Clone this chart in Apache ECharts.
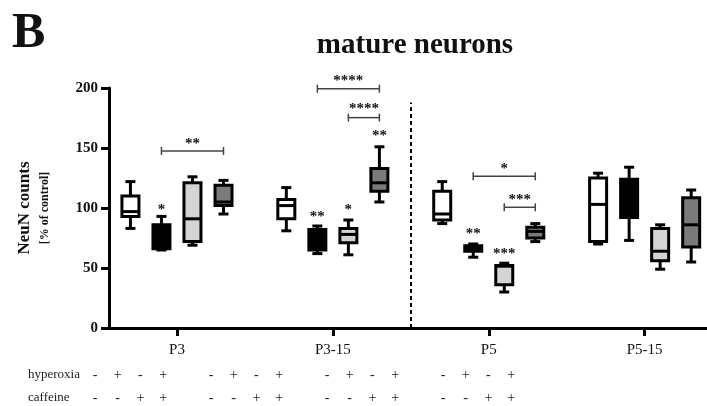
<!DOCTYPE html>
<html><head><meta charset="utf-8">
<script src="https://cdn.jsdelivr.net/npm/echarts@6/dist/echarts.min.js"></script>
<style>html,body{margin:0;padding:0;background:#fff}#c{width:707px;height:406px}</style>
</head><body><div id="c"></div>
<script>
// ---- data ----
const groups = ['P3', 'P3-15', 'P5', 'P5-15'];
const yTicks = [0, 50, 100, 150, 200];
// [min, q1, median, q3, max] per group
const control        = [[83, 93, 97, 110, 122], [81, 91, 102, 107, 117], [87, 90, 95, 114, 122], [70, 72, 103, 125, 129]];
const hyperoxia      = [[65, 66, 75, 86, 93], [62, 65, 72, 82, 85], [59, 64, 66, 68.5, 70], [73, 92, 108, 124, 134]];
const caffeine       = [[69, 72, 91, 121, 126], [61, 71, 78, 83, 90], [30, 36, 51.5, 52, 54], [49, 56, 64, 83, 86]];
const hyperCaffeine  = [[95, 102, 105, 119, 123], [105, 114, 121, 133, 151], [72, 75, 80.5, 84, 87], [55, 67.5, 86, 108.5, 115]];
const treatments = ['control', 'hyperoxia', 'caffeine', 'hyperoxia + caffeine'];
const rowHyperoxia = ['-', '+', '-', '+'];
const rowCaffeine  = ['-', '-', '+', '+'];
// significance: [group, treatmentIndex, starValue, label]
const stars = [[0, 1, 101, '*'], [1, 1, 95, '**'], [1, 2, 101, '*'], [1, 3, 162, '**'], [2, 1, 80.6, '**'], [2, 2, 64, '***']];
// brackets: [group, fromTreatment, toTreatment, lineValue, textValue, label]
const brackets = [[0, 1, 3, 147.5, 156, '**'], [1, 1, 3, 199.4, 208.6, '****'], [1, 2, 3, 175.3, 184.7, '****'],
                  [2, 1, 3, 126.4, 135, '*'], [2, 2, 3, 100.6, 109, '***']];
const separatorAt = 1.5;
const separatorTop = 188;

// ---- layout helpers ----
const OFFS = 0.199;
const xPos = (g, t) => g + (t - 1.5) * OFFS;
const fills = ['#ffffff', '#000000', '#d4d4d4', '#7a7a7a'];
const FONT = "'Liberation Serif', 'DejaVu Serif', serif";

function boxSeries(name, arr, ti) {
  return {
    type: 'custom', name: name,
    data: arr.map((v, g) => [xPos(g, ti)].concat(v)),
    encode: {x: 0, y: [1, 2, 3, 4, 5]},
    renderItem: function (params, api) {
      const x = api.value(0);
      const p = k => api.coord([x, api.value(k)]);
      const pMin = p(1), pQ1 = p(2), pMed = p(3), pQ3 = p(4), pMax = p(5);
      const cx = pMin[0];
      const st = {stroke: '#000', lineWidth: 3, fill: null};
      const hw = 8.5, cw = 5;
      return {type: 'group', children: [
        {type: 'line', shape: {x1: cx, y1: pMin[1], x2: cx, y2: pQ1[1]}, style: st},
        {type: 'line', shape: {x1: cx, y1: pQ3[1], x2: cx, y2: pMax[1]}, style: st},
        {type: 'line', shape: {x1: cx - cw, y1: pMin[1], x2: cx + cw, y2: pMin[1]}, style: st},
        {type: 'line', shape: {x1: cx - cw, y1: pMax[1], x2: cx + cw, y2: pMax[1]}, style: st},
        {type: 'rect', shape: {x: cx - hw, y: pQ3[1], width: hw * 2, height: pQ1[1] - pQ3[1]},
          style: {fill: fills[ti], stroke: '#000', lineWidth: 3}},
        {type: 'line', shape: {x1: cx - hw, y1: pMed[1], x2: cx + hw, y2: pMed[1]}, style: st}
      ]};
    },
    z: 3
  };
}

const series = [
  boxSeries(treatments[0], control, 0),
  boxSeries(treatments[1], hyperoxia, 1),
  boxSeries(treatments[2], caffeine, 2),
  boxSeries(treatments[3], hyperCaffeine, 3),
  {
    type: 'custom', name: 'stars',
    data: stars.map(s => [xPos(s[0], s[1]), s[2], s[3]]),
    encode: {x: 0, y: 1},
    renderItem: function (params, api) {
      const pt = api.coord([api.value(0), api.value(1)]);
      return {type: 'text', x: pt[0], y: pt[1] + 3,
        style: {text: stars[params.dataIndex][3], align: 'center', verticalAlign: 'middle',
          font: "bold 15px " + FONT, fill: '#111'}};
    }, z: 4
  },
  {
    type: 'custom', name: 'brackets',
    data: brackets.map(b => [xPos(b[0], b[1]), xPos(b[0], b[2]), b[3], b[4]]),
    encode: {x: [0, 1], y: [2, 3]},
    renderItem: function (params, api) {
      const a = api.coord([api.value(0), api.value(2)]);
      const b = api.coord([api.value(1), api.value(2)]);
      const t = api.coord([(api.value(0) + api.value(1)) / 2, api.value(3)]);
      const st = {stroke: '#444', lineWidth: 1.5};
      return {type: 'group', children: [
        {type: 'line', shape: {x1: a[0], y1: a[1], x2: b[0], y2: b[1]}, style: st},
        {type: 'line', shape: {x1: a[0], y1: a[1] - 4, x2: a[0], y2: a[1] + 4}, style: st},
        {type: 'line', shape: {x1: b[0], y1: b[1] - 4, x2: b[0], y2: b[1] + 4}, style: st},
        {type: 'text', x: t[0], y: t[1] + 3, style: {text: brackets[params.dataIndex][5], align: 'center',
          verticalAlign: 'middle', font: "bold 15px " + FONT, fill: '#111'}}
      ]};
    }, z: 4,
    markLine: {
      silent: true, symbol: 'none', label: {show: false},
      lineStyle: {color: '#000', type: [4, 3], width: 2},
      data: [[{coord: [separatorAt, 0]}, {coord: [separatorAt, separatorTop]}]]
    }
  }
];

// bottom table texts
const graphics = [
  {type: 'text', left: 12, top: 9, style: {text: 'B', font: "bold 50px " + FONT, fill: '#111'}},
  {type: 'text', x: 28, y: 375, style: {text: 'hyperoxia', font: "13px " + FONT, fill: '#222', verticalAlign: 'middle'}},
  {type: 'text', x: 28, y: 398, style: {text: 'caffeine', font: "13px " + FONT, fill: '#222', verticalAlign: 'middle'}}
];
groups.forEach((g, gi) => {
  for (let i = 0; i < 4; i++) {
    const x = 95 + gi * 116 + i * 22.7;
    graphics.push({type: 'text', x: x, y: 375, style: {text: rowHyperoxia[i], align: 'center', verticalAlign: 'middle', font: "14px " + FONT, fill: '#222'}});
    graphics.push({type: 'text', x: x, y: 398, style: {text: rowCaffeine[i], align: 'center', verticalAlign: 'middle', font: "14px " + FONT, fill: '#222'}});
  }
});

const chart = echarts.init(document.getElementById('c'), null, {renderer: 'canvas'});
chart.setOption({
  animation: false,
  backgroundColor: '#fff',
  title: {text: 'mature neurons', left: 410, top: 26, textAlign: 'center',
    textStyle: {fontFamily: FONT, fontWeight: 'bold', fontSize: 29, color: '#111'}},
  grid: {left: 109, right: 0, top: 88, bottom: 78, containLabel: false},
  xAxis: {
    type: 'value', min: -0.436, max: 3.4,
    splitLine: {show: false},
    axisLine: {show: true, onZero: false, lineStyle: {color: '#000', width: 3}},
    axisTick: {show: true, length: 8, inside: false, lineStyle: {color: '#000', width: 3}, customValues: [0, 1, 2, 3]},
    axisLabel: {show: true, margin: 15, customValues: [0, 1, 2, 3], formatter: v => groups[Math.round(v)],
      fontFamily: FONT, fontSize: 15, color: '#111'}
  },
  yAxis: {
    type: 'value', min: 0, max: 200, interval: 50,
    splitLine: {show: false},
    axisLine: {show: true, onZero: false, lineStyle: {color: '#000', width: 3}},
    axisTick: {show: true, length: 8, lineStyle: {color: '#000', width: 3}},
    axisLabel: {margin: 11, fontFamily: FONT, fontWeight: 'bold', fontSize: 15, color: '#111',
      customValues: yTicks},
    name: '{a|NeuN counts}\n{b|[% of control]}',
    nameLocation: 'middle', nameRotate: 90, nameGap: 55,
    nameTextStyle: {rich: {
      a: {fontFamily: FONT, fontWeight: 'bold', fontSize: 17, color: '#111', lineHeight: 22},
      b: {fontFamily: FONT, fontWeight: 'bold', fontSize: 12, color: '#111', lineHeight: 18}
    }}
  },
  graphic: graphics,
  series: series
});
</script>
</body></html>
